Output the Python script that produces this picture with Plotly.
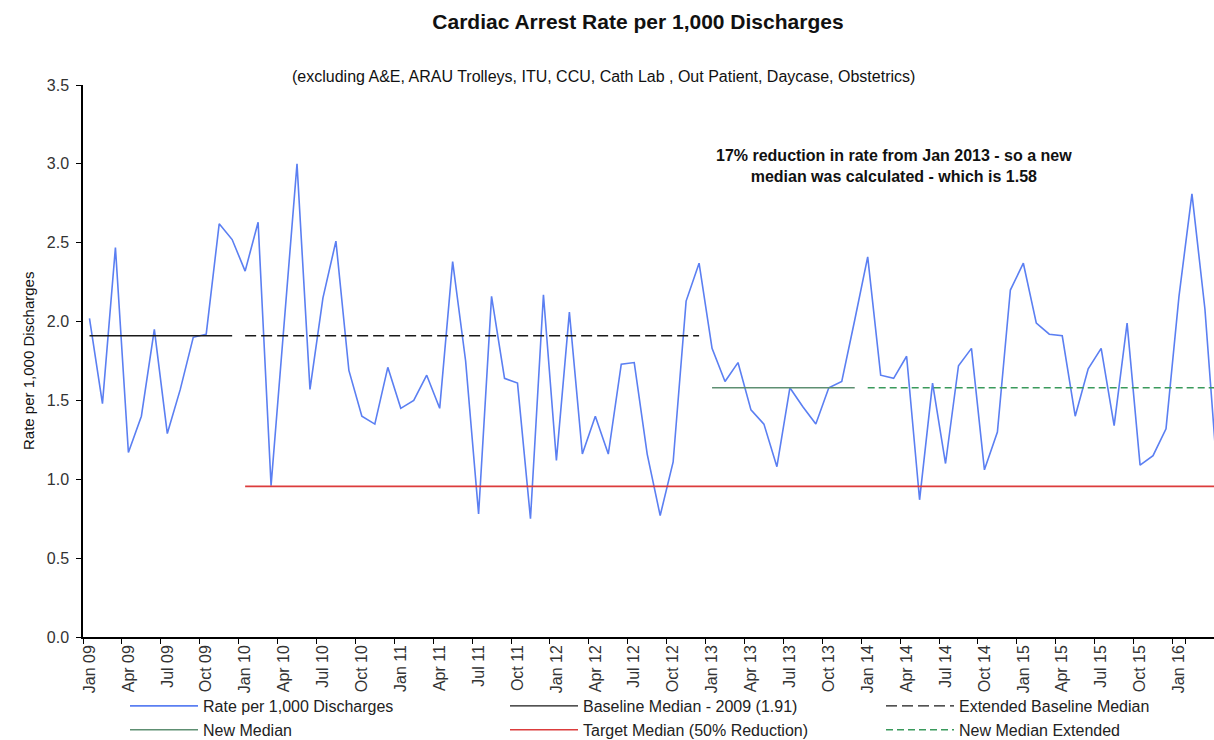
import plotly.graph_objects as go

# ---- data ----
years = ["09", "10", "11", "12", "13", "14", "15", "16"]
month_names = ["Jan", "Feb", "Mar", "Apr", "May", "Jun", "Jul", "Aug", "Sep", "Oct", "Nov", "Dec"]
months = [f"{m} {y}" for y in years for m in month_names][:88]  # Jan 09 .. Apr 16

rate = [
    2.02, 1.48, 2.47, 1.17, 1.40, 1.95, 1.29, 1.57, 1.90, 1.92, 2.62, 2.52,   # 2009
    2.32, 2.63, 0.96, 1.98, 3.00, 1.57, 2.15, 2.51, 1.69, 1.40, 1.35, 1.71,   # 2010
    1.45, 1.50, 1.66, 1.45, 2.38, 1.75, 0.78, 2.16, 1.64, 1.61, 0.75, 2.17,   # 2011
    1.12, 2.06, 1.16, 1.40, 1.16, 1.73, 1.74, 1.16, 0.77, 1.11, 2.13, 2.37,   # 2012
    1.83, 1.62, 1.74, 1.44, 1.35, 1.08, 1.58, 1.46, 1.35, 1.58, 1.62, 2.01,   # 2013
    2.41, 1.66, 1.64, 1.78, 0.87, 1.61, 1.10, 1.72, 1.83, 1.06, 1.30, 2.20,   # 2014
    2.37, 1.99, 1.92, 1.91, 1.40, 1.70, 1.83, 1.34, 1.99, 1.09, 1.15, 1.32,   # 2015
    2.16, 2.81, 2.08, 0.98,                                                   # 2016
]

baseline_median = 1.91
new_median = 1.58
target_median = 0.955

n = len(months)
baseline = [baseline_median if i <= 11 else None for i in range(n)]
baseline_ext = [baseline_median if 12 <= i <= 47 else None for i in range(n)]
new_med = [new_median if 48 <= i <= 59 else None for i in range(n)]
new_med_ext = [new_median if i >= 60 else None for i in range(n)]
target = [target_median if i >= 12 else None for i in range(n)]

tick_labels = months[::3]

FONT = "Liberation Sans, Arial, sans-serif"

fig = go.Figure()


def add(y, name, color, width, dash, legend):
    fig.add_trace(go.Scatter(x=months, y=y, mode="lines", name=name, legend=legend,
                             legendgroup=name,
                             line=dict(color=color, width=width, dash=dash)))


add(rate, "Rate per 1,000 Discharges", "#5b7ff2", 1.6, "solid", "legend")
add(baseline, "Baseline Median - 2009 (1.91)", "#1a1a1a", 1.4, "solid", "legend2")
add(baseline_ext, "Extended Baseline Median", "#1a1a1a", 1.4, "11px,5px", "legend3")
add(new_med, "New Median", "#5e8f72", 1.6, "solid", "legend")
add(target, "Target Median (50% Reduction)", "#dc3c3c", 1.6, "solid", "legend2")
add(new_med_ext, "New Median Extended", "#3a9a5c", 1.4, "7px,4px", "legend3")


def legend_at(px):
    return dict(orientation="v", xref="container", yref="container",
                x=px / 1214, xanchor="left", y=1 - 689 / 740, yanchor="top",
                itemwidth=68, tracegroupgap=0,
                font=dict(family=FONT, size=16, color="#222222"),
                bgcolor="rgba(0,0,0,0)")


fig.update_layout(
    width=1214, height=740,
    paper_bgcolor="white", plot_bgcolor="white",
    margin=dict(l=83, r=0, t=85, b=103, autoexpand=False),
    font=dict(family=FONT, size=14, color="#333333"),
    title=dict(text="<b>Cardiac Arrest Rate per 1,000 Discharges</b>",
               x=0.5255, xanchor="center", xref="container",
               y=1 - 22 / 740, yanchor="middle", yref="container",
               font=dict(family=FONT, size=21, color="#111111")),
    showlegend=True,
    legend=legend_at(125),
    legend2=legend_at(505),
    legend3=legend_at(881),
    annotations=[
        dict(text="(excluding A&E, ARAU Trolleys, ITU, CCU, Cath Lab , Out Patient, Daycase, Obstetrics)",
             xref="paper", yref="paper", x=(603 - 83) / 1131, y=(637 - 76) / 552,
             xanchor="center", yanchor="middle", showarrow=False,
             font=dict(family=FONT, size=16, color="#111111")),
        dict(text="<b>17% reduction in rate from Jan 2013 - so a new<br>median was calculated - which is 1.58</b>",
             xref="paper", yref="paper", x=(894 - 83) / 1131, y=(637 - 165.5) / 552,
             xanchor="center", yanchor="middle", showarrow=False, align="center",
             font=dict(family=FONT, size=16, color="#111111")),
        dict(text="Rate per 1,000 Discharges", textangle=-90,
             xref="paper", yref="paper", x=(28 - 83) / 1131, y=0.5,
             xanchor="center", yanchor="middle", showarrow=False,
             font=dict(family=FONT, size=15, color="#111111")),
    ],
)

fig.update_xaxes(
    type="category", categoryorder="array", categoryarray=months,
    range=[-0.5, 86.7], automargin=False,
    tickmode="array", tickvals=tick_labels, ticktext=tick_labels,
    tickson="boundaries", ticks="outside", ticklen=5, tickcolor="#000000",
    tickangle=-90, tickfont=dict(family=FONT, size=16, color="#333333"),
    showline=True, linecolor="#000000", linewidth=1.5,
    showgrid=False, zeroline=False,
)
fig.update_yaxes(
    range=[0, 3.5], dtick=0.5, tick0=0, tickformat=".1f", automargin=False,
    ticks="outside", ticklen=5, tickcolor="#000000", ticklabelstandoff=4,
    tickfont=dict(family=FONT, size=16, color="#333333"),
    showline=True, linecolor="#000000", linewidth=1.5,
    showgrid=False, zeroline=False,
)

fig.write_html("out.html", config={"displayModeBar": False},
               post_script="document.body.style.margin='0';")
